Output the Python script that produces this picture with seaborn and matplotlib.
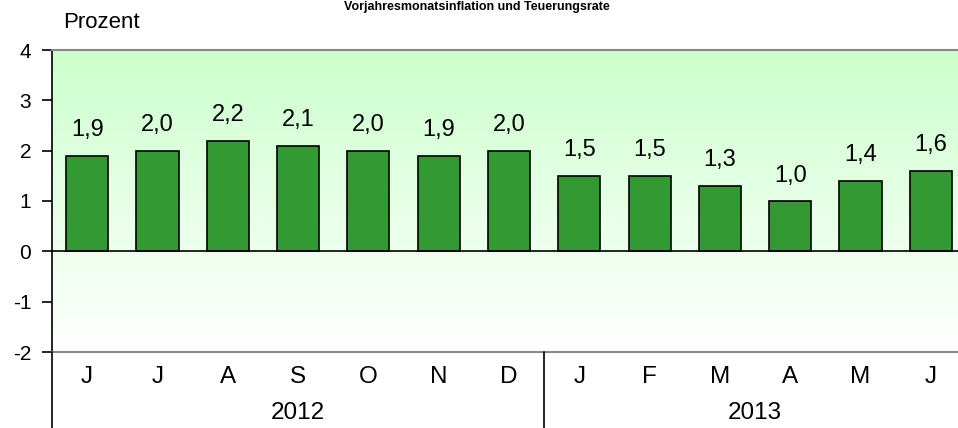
import numpy as np
import pandas as pd
import matplotlib
matplotlib.use("Agg")
import matplotlib.pyplot as plt
import seaborn as sns
from matplotlib.colors import LinearSegmentedColormap

# ---- data ----
months = ["J", "J", "A", "S", "O", "N", "D", "J", "F", "M", "A", "M", "J"]
years = ["2012", "2013"]
year_counts = [7, 6]
values = [1.9, 2.0, 2.2, 2.1, 2.0, 1.9, 2.0, 1.5, 1.5, 1.3, 1.0, 1.4, 1.6]
yticks = [-2, -1, 0, 1, 2, 3, 4]
title = "Vorjahresmonatsinflation und Teuerungsrate"
unit_label = "Prozent"

sns.set_theme(style="white")
plt.rcParams['font.family'] = ['Liberation Sans', 'DejaVu Sans']

W, H = 958, 428
fig = plt.figure(figsize=(W / 100, H / 100), dpi=100)
fig.patch.set_facecolor("white")

left_px, right_px, top_px, bot_px = 52, 966, 50, 352
ax = fig.add_axes([left_px / W, 1 - bot_px / H, (right_px - left_px) / W, (bot_px - top_px) / H])

df = pd.DataFrame({"pos": list(range(len(values))), "val": values})
sns.barplot(x="pos", y="val", data=df, color="#339933", width=0.6,
            edgecolor="black", linewidth=1.2, saturation=1, ax=ax, zorder=3)

n = len(values)
ax.set_xlim(-0.5, n - 0.5)
ax.set_ylim(yticks[0], yticks[-1])

# gradient background
cmap = LinearSegmentedColormap.from_list("g", ["#ffffff", "#ccffcc"])
grad = np.linspace(0, 1, 256).reshape(-1, 1)
ax.imshow(grad, extent=[-0.5, n - 0.5, yticks[0], yticks[-1]], origin="lower",
          aspect="auto", cmap=cmap, zorder=0)
ax.set_facecolor("white")

ax.axhline(0, color="black", lw=1.2, zorder=4)

ax.spines["right"].set_visible(False)
ax.spines["top"].set_color("#888888")
ax.spines["top"].set_linewidth(1.5)
ax.spines["bottom"].set_color("#888888")
ax.spines["bottom"].set_linewidth(1.5)
ax.spines["left"].set_color("black")
ax.spines["left"].set_linewidth(1.2)

ax.set_yticks(yticks)
ax.set_yticklabels([str(t) for t in yticks])
ax.tick_params(axis="y", left=True, length=7, width=1.2, color="black",
               pad=8, labelsize=15, labelcolor="black")
ax.set_xticks([])
ax.set_xlabel("")
ax.set_ylabel("")

# bar labels
for i, v in enumerate(values):
    ax.annotate(f"{v:.1f}".replace(".", ","), xy=(i, v), xytext=(0, 14),
                textcoords="offset points", ha="center", va="baseline",
                fontsize=17, color="black", zorder=5)

# month labels & year labels
trans = ax.get_xaxis_transform()
axh = bot_px - top_px
for i, m in enumerate(months):
    ax.text(i, -(377 - bot_px) / axh, m, transform=trans, ha="center", va="center",
            fontsize=17.5, color="black")
start = -0.5
for y, c in zip(years, year_counts):
    ax.text(start + c / 2, -(413 - bot_px) / axh, y, transform=trans, ha="center",
            va="center", fontsize=17.5, color="black")
    start += c
    if start < n - 0.5:
        ax.plot([start, start], [0, -(H - bot_px) / axh], transform=trans,
                color="black", lw=1.2, clip_on=False, zorder=5)

# left axis extends down to bottom of figure
ax.plot([-0.5, -0.5], [0, -(H - bot_px) / axh], transform=trans,
        color="black", lw=1.2, clip_on=False, zorder=5)

fig.text(63 / W, 1 - 22 / H, unit_label, ha="left", va="center", fontsize=16, color="black")
fig.text(477 / W, 1 - 1 / H, title, ha="center", va="top", fontsize=9,
         fontweight="bold", color="black")

fig.savefig("out.png", dpi=100)
